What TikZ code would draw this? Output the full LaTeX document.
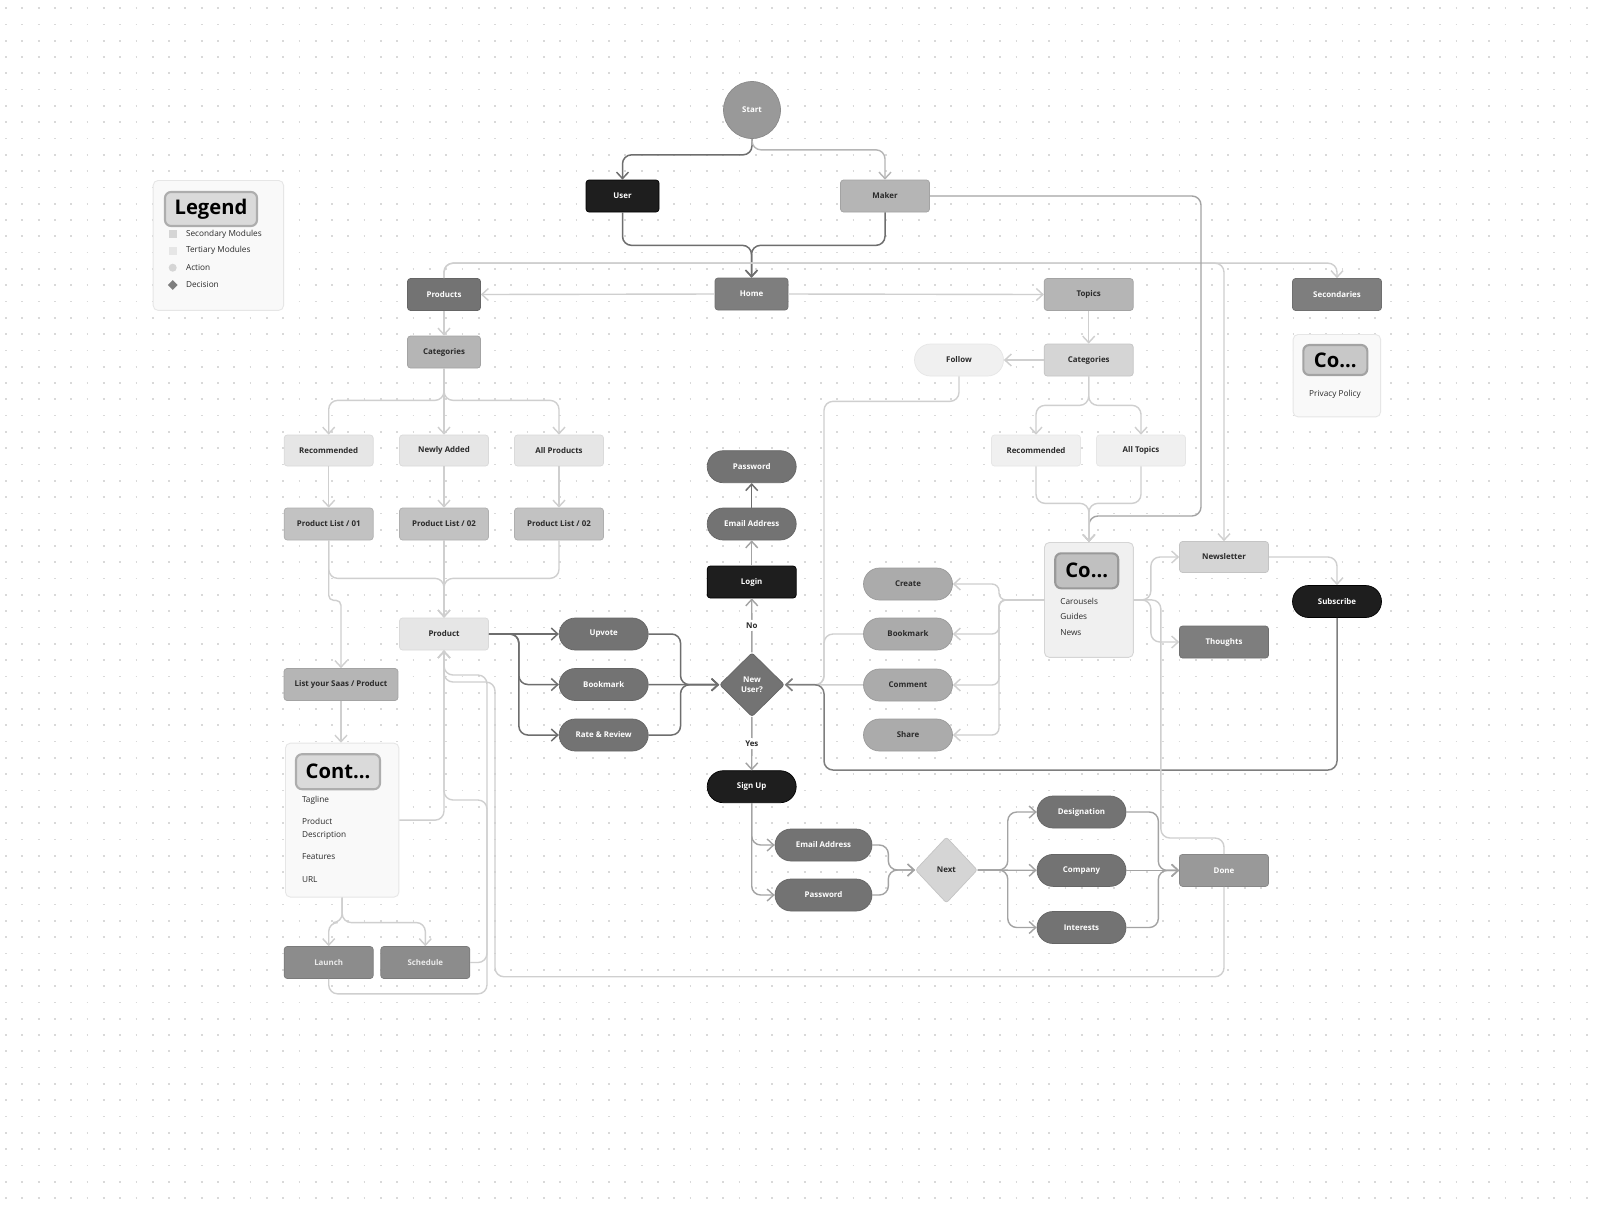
\documentclass[tikz,border=0pt]{standalone}
\usepackage{fontspec}
\setmainfont{Open Sans}
\usetikzlibrary{arrows.meta,shapes.geometric}
\definecolor{ink}{HTML}{2A2A2A}
\definecolor{gblack}{HTML}{1E1E1E}
\definecolor{gdark}{HTML}{737373}
\definecolor{gdark2}{HTML}{7E7E7E}
\definecolor{gmid}{HTML}{999999}
\definecolor{glaunch}{HTML}{8C8C8C}
\definecolor{ggrey}{HTML}{B5B5B5}
\definecolor{ggrey2}{HTML}{C2C2C2}
\definecolor{gact}{HTML}{ABABAB}
\definecolor{glight}{HTML}{D5D5D5}
\definecolor{gpale}{HTML}{E6E6E6}
\definecolor{gwhite}{HTML}{F0F0F0}
\definecolor{gpanel}{HTML}{F9F9F9}
\definecolor{lnlight}{HTML}{CFCFCF}
\definecolor{lnmid}{HTML}{A3A3A3}
\definecolor{lndark}{HTML}{6E6E6E}
\definecolor{dotc}{HTML}{D9D9D9}
\tikzset{
  lbl/.style={font=\bfseries\fontsize{4.5}{5.4}\selectfont},
  sm/.style={font=\fontsize{4.7}{7.2}\selectfont,text=ink,inner sep=0pt},
  box/.style={lbl,rectangle,rounded corners=0.06cm,minimum width=1.78cm,minimum height=0.64cm,inner sep=0pt,line width=0.4pt},
  pill/.style={box,rounded corners=0.32cm},
  dmd/.style={lbl,diamond,aspect=1,minimum width=1.3cm,minimum height=1.28cm,inner sep=0pt,align=center,rounded corners=0.05cm,line width=0.4pt},
  circ/.style={lbl,circle,minimum size=1.14cm,inner sep=0pt,fill=gmid,draw=gmid!90!black,text=white},
  blk/.style={fill=gblack,draw=black,text=white},
  drk/.style={fill=gdark,draw=gdark!88!black,text=white},
  drk2/.style={fill=gdark2,draw=gdark2!88!black,text=white},
  mid/.style={fill=gmid,draw=gmid!88!black,text=white},
  lnch/.style={fill=glaunch,draw=glaunch!88!black,text=white!92!black},
  gry/.style={fill=ggrey,draw=ggrey!90!black,text=ink},
  gry2/.style={fill=ggrey2,draw=ggrey2!90!black,text=ink},
  act/.style={fill=gact,draw=gact!90!black,text=ink},
  lgt/.style={fill=glight,draw=glight!92!black,text=ink},
  pale/.style={fill=gpale,draw=gpale!95!black,text=ink},
  wht/.style={fill=gwhite,draw=gwhite!96!black,text=ink},
  panel/.style={rectangle,rounded corners=0.1cm,fill=gpanel,draw=gpale,line width=0.5pt,inner sep=0pt},
  btn/.style={rectangle,rounded corners=0.12cm,font=\bfseries\fontsize{11.5}{13}\selectfont,text=black,fill=gpale!95!black,draw=gmid!80!white,line width=1.2pt,inner sep=0pt},
  mk/.style={rectangle,minimum size=0.16cm,inner sep=0pt},
  tag/.style={lbl,fill=white,text=ink,inner sep=1.5pt},
  arr/.style={-{Straight Barb[length=0.13cm,width=0.24cm]}},
  lnlt/.style={draw=lnlight,line width=0.028cm,rounded corners=0.18cm},
  lnmd/.style={draw=lnmid,line width=0.028cm,rounded corners=0.18cm},
  lndk/.style={draw=lndark,line width=0.03cm,rounded corners=0.18cm},
  dotrow/.style={draw=dotc,line width=0.035cm,dash pattern=on 0.035cm off 0.291cm}
}
\begin{document}
\begin{tikzpicture}[x=0.02cm,y=-0.02cm]
\fill[white] (0,0) rectangle (1599,1208);
\useasboundingbox (0,0) rectangle (1599,1208);
\foreach \j in {0,...,73}{
  \draw[dotrow] (5.2,{8.1+16.3*\j}) -- (1599,{8.1+16.3*\j});
}

% legend
\node[panel,minimum width=2.61cm,minimum height=2.6cm,anchor=north west] (legend) at (152.7,180) {};
\node[btn,minimum width=1.84cm,minimum height=0.68cm] (legbtn) at (211,209) {Legend};
\node[mk,fill=glight] (k1) at (172.7,234) {};
\node[sm,anchor=west] (k1t) at (185.7,234) {Secondary Modules};
\node[mk,fill=gpale] (k2) at (172.7,250.7) {};
\node[sm,anchor=west] (k2t) at (185.7,250.7) {Tertiary Modules};
\node[mk,circle,fill=glight] (k3) at (172.7,267.7) {};
\node[sm,anchor=west] (k3t) at (185.7,267.7) {Action};
\node[mk,diamond,minimum size=0.2cm,fill=gdark2] (k4) at (172.7,285) {};
\node[sm,anchor=west] (k4t) at (185.7,285) {Decision};

% top
\node[circ] (start) at (752,110) {Start};
\node[box,blk,minimum width=1.46cm] (user) at (622.5,196) {User};
\node[box,gry] (maker) at (885,196) {Maker};
\node[box,drk2,minimum width=1.46cm] (home) at (751.5,294) {Home};
\node[box,drk,minimum width=1.46cm] (products) at (444,294.5) {Products};
\node[box,gry] (topics) at (1088.7,294.5) {Topics};
\node[box,drk2] (secondaries) at (1337,294.5) {Secondaries};

% products side
\node[box,gry,minimum width=1.46cm] (cat1) at (444,352) {Categories};
\node[box,pale,minimum height=0.62cm] (rec1) at (328.7,450.5) {Recommended};
\node[box,pale,minimum height=0.62cm] (newly) at (444,450.5) {Newly Added};
\node[box,pale,minimum height=0.62cm] (allprod) at (559,450.5) {All Products};
\node[box,gry2] (pl1) at (328.7,524) {Product List / 01};
\node[box,gry2] (pl2) at (444,524) {Product List / 02};
\node[box,gry2] (pl3) at (559,524) {Product List / 02};
\node[box,pale] (product) at (444,634) {Product};
\node[box,gry,minimum width=2.28cm] (list) at (341,684.5) {List your Saas / Product};
\node[panel,minimum width=2.27cm,minimum height=3.08cm,anchor=north west] (cont) at (285,742.7) {};
\node[btn,minimum width=1.68cm,minimum height=0.7cm] (contbtn) at (338,771.7) {Cont...};
\node[sm,anchor=west] (tagline) at (301.7,800.7) {Tagline};
\node[sm,anchor=west,align=left] (descr) at (301.7,828.7) {Product\\Description};
\node[sm,anchor=west] (features) at (301.7,857) {Features};
\node[sm,anchor=west] (url) at (301.7,879.3) {URL};
\node[box,lnch] (launch) at (328.7,962.5) {Launch};
\node[box,lnch] (schedule) at (425.3,962.5) {Schedule};
\node[pill,drk] (upvote) at (603.7,634) {Upvote};
\node[pill,drk] (bmk1) at (603.7,684.5) {Bookmark};
\node[pill,drk] (rate) at (603.7,735) {Rate \& Review};

% middle
\node[dmd,drk] (newuser) at (752,684.7) {New\\User?};
\node[box,blk] (login) at (751.7,582) {Login};
\node[pill,drk] (email1) at (751.7,524) {Email Address};
\node[pill,drk] (pass1) at (751.7,466.7) {Password};
\node[pill,blk] (signup) at (751.7,786.7) {Sign Up};
\node[pill,drk,minimum width=1.94cm] (email2) at (823.5,845) {Email Address};
\node[pill,drk,minimum width=1.94cm] (pass2) at (823.5,895) {Password};
\node[dmd,lgt,minimum width=1.24cm,minimum height=1.32cm] (next) at (946.4,870) {Next};
\node[pill,drk] (desig) at (1081.5,812) {Designation};
\node[pill,drk] (company) at (1081.5,870.4) {Company};
\node[pill,drk] (interests) at (1081.5,927.5) {Interests};
\node[box,mid] (done) at (1224,870.4) {Done};

% topics side
\node[box,lgt] (cat2) at (1088.7,360) {Categories};
\node[pill,wht] (follow) at (959,360) {Follow};
\node[box,wht,minimum height=0.62cm] (rec2) at (1036,450.5) {Recommended};
\node[box,wht,minimum height=0.62cm] (alltop) at (1141,450.5) {All Topics};
\node[panel,fill=gwhite,draw=glight,minimum width=1.78cm,minimum height=2.3cm,anchor=north west] (topcont) at (1044,542) {};
\node[btn,fill=ggrey!85!white,draw=gmid,minimum width=1.26cm,minimum height=0.7cm] (topbtn) at (1086.7,570.8) {Co...};
\node[sm,anchor=west] (carousels) at (1060,601.7) {Carousels};
\node[sm,anchor=west] (guides) at (1060,616.7) {Guides};
\node[sm,anchor=west] (news) at (1060,632.3) {News};
\node[pill,act] (create) at (908,584) {Create};
\node[pill,act] (bmk2) at (908,634) {Bookmark};
\node[pill,act] (comment) at (908,685) {Comment};
\node[pill,act] (share) at (908,735) {Share};
\node[box,lgt,minimum height=0.62cm] (newsletter) at (1224,557) {Newsletter};
\node[box,drk2] (thoughts) at (1224,642) {Thoughts};
\node[pill,blk] (subscribe) at (1337,601.5) {Subscribe};
\node[panel,minimum width=1.75cm,minimum height=1.65cm,anchor=north west] (seccont) at (1292.7,334) {};
\node[btn,fill=ggrey2!90!white,draw=gmid!90!white,minimum width=1.28cm,minimum height=0.6cm] (secbtn) at (1335.3,360) {Co...};
\node[sm] (privacy) at (1335,394) {Privacy Policy};

% connectors
\draw[lndk,arr] (start.south) -- ++(0,16) -| (user.north);
\draw[lnlt,draw=ggrey,arr] (start.south) -- ++(0,11) -| (maker.north);
\draw[lndk,arr] (user.south) -- ++(0,33) -| (home.north);
\draw[lndk,arr] (maker.south) -- ++(0,33) -| (home.north);
\draw[lnlt,arr] (home.west) -- (products.east);
\draw[lnlt,arr] (home.east) -- (topics.west);
\draw[lnlt,arr] (products.north) -- ++(0,-15) -| (secondaries.north);
\draw[lnlt,arr] (products.north) -- ++(0,-15) -| (newsletter.north);
\draw[lnmd,arr] (maker.east) -| (1201,516) -| (topcont.north);

\draw[lnlt,arr] (products) -- (cat1);
\draw[lnlt,arr] (cat1.south) -- ++(0,32) -| (rec1.north);
\draw[lnlt,arr] (cat1) -- (newly);
\draw[lnlt,arr] (cat1.south) -- ++(0,32) -| (allprod.north);
\draw[lnlt,arr] (rec1) -- (pl1);
\draw[lnlt,arr] (newly) -- (pl2);
\draw[lnlt,arr] (allprod) -- (pl3);
\draw[lnlt,arr] (pl1.south) -- ++(0,38) -| (product.north);
\draw[lnlt,arr] (pl2) -- (product);
\draw[lnlt,arr] (pl3.south) -- ++(0,38) -| (product.north);
\draw[lnlt,arr,rounded corners=0.1cm] (pl1.south) -- ++(0,60) -| (list.north);
\draw[lnlt,arr] (list.south) -- (list.south |- cont.north);
\draw[lnlt,arr] (cont.south) -- ++(0,25) -| (launch.north);
\draw[lnlt,arr] (cont.south) -- ++(0,25) -| (schedule.north);
\draw[lnlt,arr] (cont.east) -| (product.south);
\draw[lnlt,arr] (schedule.east) -| (487,675) -| (product.south);
\draw[lnlt,arr] (launch.south) -- ++(0,15) -| (487,800) -| (product.south);
\draw[lnlt,arr] (done.south) -- ++(0,90) -| (495,682) -| (product.south);

\draw[lndk,arr] (product) -- (upvote);
\draw[lndk,arr] (product.east) -- ++(30,0) |- (bmk1.west);
\draw[lndk,arr] (product.east) -- ++(30,0) |- (rate.west);
\draw[lndk,arr] (upvote.east) -- ++(32,0) |- (newuser.west);
\draw[lndk,arr] (bmk1) -- (newuser);
\draw[lndk,arr] (rate.east) -- ++(32,0) |- (newuser.west);

\draw[lnmd,arr] (newuser) -- node[tag] {No} (login);
\draw[lnmd,arr] (login) -- (email1);
\draw[lndk,arr] (email1) -- (pass1);
\draw[lnmd,arr] (newuser) -- node[tag] {Yes} (signup);
\draw[lnmd,arr] (signup.south) |- (email2.west);
\draw[lnmd,arr] (signup.south) |- (pass2.west);
\draw[lnmd,arr] (email2.east) -- ++(16,0) |- (next.west);
\draw[lnmd,arr] (pass2.east) -- ++(16,0) |- (next.west);
\draw[lnmd,arr] (next.east) -- ++(30,0) |- (desig.west);
\draw[lnmd,arr] (next) -- (company);
\draw[lnmd,arr] (next.east) -- ++(30,0) |- (interests.west);
\draw[lnmd,arr] (desig.east) -- ++(32,0) |- (done.west);
\draw[lnmd,arr] (company) -- (done);
\draw[lnmd,arr] (interests.east) -- ++(32,0) |- (done.west);

\draw[lnlt,arr] (topics) -- (cat2);
\draw[lnlt,arr] (cat2) -- (follow);
\draw[lnlt,arr] (cat2.south) -- ++(0,29) -| (rec2.north);
\draw[lnlt,arr] (cat2.south) -- ++(0,29) -| (alltop.north);
\draw[lnlt,arr] (rec2.south) -- ++(0,37) -| (topcont.north);
\draw[lnlt,arr] (alltop.south) -- ++(0,37) -| (topcont.north);
\draw[lnlt,arr] (follow.south) -- ++(0,25) -| (824,685) -- (newuser.east);
\draw[lnlt,arr] (bmk2.west) -| (824,685) -- (newuser.east);
\draw[lnlt,arr] (comment) -- (newuser);
\draw[lndk,draw=gdark2,arr] (subscribe.south) |- (824,770) |- (newuser.east);
\foreach \t in {create,bmk2,comment,share}
  \draw[lnlt,arr,rounded corners=0.14cm] (topcont.west) -- ++(-45,0) |- (\t.east);
\draw[lnlt,arr] (topcont.east) -- ++(17,0) |- (newsletter.west);
\draw[lnlt,arr] (topcont.east) -- ++(17,0) |- (thoughts.west);
\draw[lnlt] (topcont.east) -- ++(27,0) |- (1224,838) -- (done.north);
\draw[lnlt,arr] (newsletter.east) -| (subscribe.north);
\end{tikzpicture}
\end{document}
